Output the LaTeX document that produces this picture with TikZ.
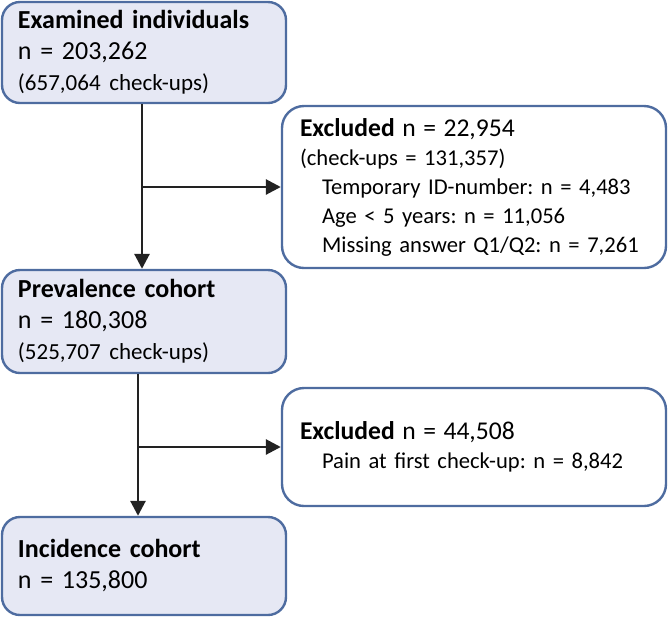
\documentclass[tikz,border=0pt]{standalone}
\usepackage{fontspec}
\setmainfont{Carlito}
\usepackage{xcolor}
\usetikzlibrary{arrows.meta}
\frenchspacing

\definecolor{boxline}{HTML}{4E6CA0}
\definecolor{boxfill}{HTML}{E6E8F4}
\definecolor{arrowline}{HTML}{222222}

\begin{document}
\begin{tikzpicture}[x=0.5pt,y=-0.5pt,
  cohort/.style={draw=boxline, fill=boxfill, line width=1.2pt, rounded corners=9pt,
    align=left, text width=126pt, inner xsep=8pt, font=\fontsize{13}{15.5}\selectfont},
  excl/.style={draw=boxline, fill=white, line width=1.2pt, rounded corners=11pt,
    align=left, text width=174pt, inner xsep=9pt, font=\fontsize{11.3}{14.5}\selectfont},
  flow/.style={draw=arrowline, line width=1.4pt, -{Triangle[length=7.5pt,width=7.5pt]}}]
\useasboundingbox (0,0) rectangle (669,617);

  \node[cohort, minimum height=50.5pt] (exam) at (144,52.5)
    {\textbf{Examined individuals}\\ n = 203,262\\ {\fontsize{11.5}{15.5}\selectfont (657,064 check-ups)}};
  \node[excl, minimum height=81pt]     (excl1) at (474,187)
    {{\fontsize{12.8}{14.5}\selectfont\textbf{Excluded} n = 22,954}\\
     (check-ups = 131,357)\\
     \hspace*{11pt}Temporary ID-number: n = 4,483\\
     \hspace*{11pt}Age < 5 years: n = 11,056\\
     \hspace*{11pt}Missing answer Q1/Q2: n = 7,261};
  \node[cohort, minimum height=51.5pt] (prev) at (144,321.5)
    {\textbf{Prevalence cohort}\\ n = 180,308\\ {\fontsize{11.5}{15.5}\selectfont (525,707 check-ups)}};
  \node[excl, minimum height=59pt]     (excl2) at (474,447)
    {{\fontsize{12.8}{14.5}\selectfont\textbf{Excluded} n = 44,508}\\
     \hspace*{11pt}Pain at first check-up: n = 8,842};
  \node[cohort, minimum height=49pt]   (inc) at (144,566)
    {\textbf{Incidence cohort}\\ n = 135,800};

  % main flow
  \draw[flow] ([xshift=-1pt]exam.south) -- ([xshift=-1pt]prev.north);
  \draw[flow] ([xshift=-3pt]prev.south) -- ([xshift=-3pt]inc.north);

  % exclusions
  \draw[flow] ([xshift=-1pt]exam.south |- excl1.west) -- (excl1.west);
  \draw[flow] ([xshift=-3pt]prev.south |- excl2.west) -- (excl2.west);
\end{tikzpicture}
\end{document}
